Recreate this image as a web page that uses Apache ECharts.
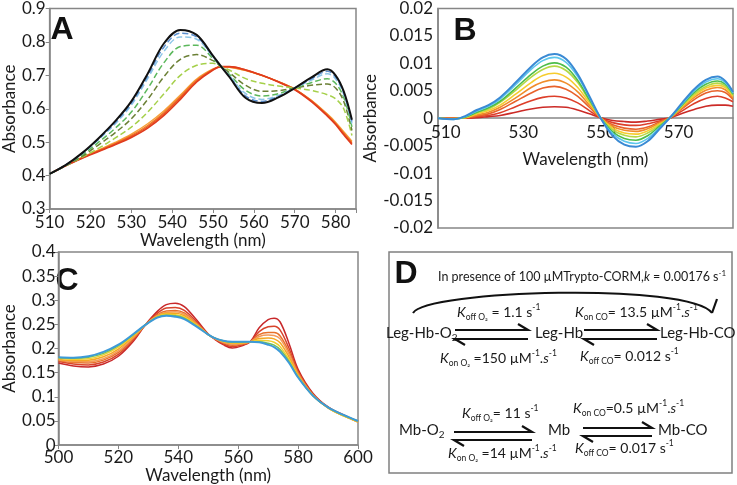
<!DOCTYPE html>
<html>
<head>
<meta charset="utf-8">
<title>Absorbance spectra</title>
<script src="https://cdn.jsdelivr.net/npm/echarts@6/dist/echarts.min.js"></script>
<style>
    html, body { margin: 0; background: #fff; }
    #chart { width: 737px; height: 485px; }
</style>
</head>
<body>
<div id="chart"></div>
<script>
// ---- panel A : spectra 510-584 nm ----
var aWave = [510, 514, 518, 522, 526, 530, 534, 538, 542, 546, 550, 552, 554, 558, 562, 566, 570, 574, 578, 580, 582, 584];
var aBlack = [0.405, 0.432, 0.468, 0.512, 0.562, 0.622, 0.705, 0.796, 0.836, 0.821, 0.758, 0.726, 0.695, 0.632, 0.617, 0.634, 0.662, 0.693, 0.718, 0.700, 0.652, 0.567];
var aBlue = [0.405, 0.432, 0.467, 0.510, 0.558, 0.617, 0.698, 0.785, 0.826, 0.815, 0.757, 0.726, 0.697, 0.638, 0.622, 0.637, 0.662, 0.689, 0.712, 0.695, 0.648, 0.562];
var aLightBlue = [0.405, 0.432, 0.466, 0.508, 0.554, 0.611, 0.690, 0.772, 0.815, 0.808, 0.755, 0.726, 0.699, 0.645, 0.628, 0.640, 0.662, 0.685, 0.705, 0.689, 0.643, 0.556];
var aGreen = [0.405, 0.431, 0.462, 0.500, 0.541, 0.590, 0.660, 0.738, 0.786, 0.790, 0.750, 0.726, 0.703, 0.655, 0.638, 0.645, 0.662, 0.678, 0.690, 0.676, 0.634, 0.546];
var aOlive = [0.405, 0.430, 0.458, 0.492, 0.528, 0.570, 0.628, 0.696, 0.748, 0.762, 0.744, 0.726, 0.708, 0.670, 0.652, 0.654, 0.662, 0.670, 0.674, 0.662, 0.622, 0.535];
var aLime = [0.405, 0.430, 0.455, 0.482, 0.512, 0.545, 0.590, 0.645, 0.700, 0.730, 0.736, 0.726, 0.716, 0.690, 0.676, 0.668, 0.662, 0.655, 0.642, 0.630, 0.600, 0.520];
var aRed = [0.405, 0.430, 0.452, 0.472, 0.492, 0.514, 0.542, 0.580, 0.628, 0.680, 0.716, 0.726, 0.726, 0.716, 0.700, 0.680, 0.657, 0.622, 0.578, 0.553, 0.522, 0.493];
var aRedOrange = [0.405, 0.430, 0.453, 0.474, 0.494, 0.517, 0.546, 0.585, 0.633, 0.683, 0.717, 0.726, 0.726, 0.716, 0.700, 0.681, 0.658, 0.624, 0.580, 0.555, 0.525, 0.496];
var aOrange = [0.405, 0.430, 0.454, 0.475, 0.496, 0.520, 0.550, 0.589, 0.637, 0.686, 0.718, 0.726, 0.725, 0.715, 0.700, 0.681, 0.659, 0.625, 0.582, 0.557, 0.528, 0.499];
var aLightOrange = [0.405, 0.431, 0.455, 0.477, 0.499, 0.524, 0.555, 0.594, 0.641, 0.689, 0.719, 0.726, 0.724, 0.714, 0.699, 0.681, 0.659, 0.626, 0.584, 0.560, 0.531, 0.503];

// ---- panel B : difference spectra ----
var bWave = [508, 512, 515, 518, 521, 524, 528, 532, 535, 538, 541, 544, 547, 550, 553, 556, 559, 562, 565, 568, 571, 574, 577, 580, 582, 584];
var bTicks = [510, 530, 550, 570];
var bDarkRed = [0, 0, 0, 0.0001, 0.0003, 0.0005, 0.0011, 0.0017, 0.0020, 0.0021, 0.0020, 0.0015, 0.0008, 0.0001, -0.0004, -0.0006, -0.0007, -0.0005, -0.0002, 0.0001, 0.0009, 0.0016, 0.0022, 0.0024, 0.0024, 0.0022];
var bRed = [0, 0, 0, 0.0003, 0.0005, 0.0010, 0.0021, 0.0032, 0.0038, 0.0040, 0.0037, 0.0028, 0.0014, 0, -0.0008, -0.0012, -0.0013, -0.0010, -0.0005, 0.0001, 0.0014, 0.0027, 0.0036, 0.0040, 0.0037, 0.0030];
var bRedOrange = [0, 0, 0.0001, 0.0004, 0.0008, 0.0016, 0.0031, 0.0046, 0.0055, 0.0058, 0.0053, 0.0040, 0.0020, 0, -0.0012, -0.0018, -0.0020, -0.0016, -0.0007, 0.0002, 0.0018, 0.0034, 0.0046, 0.0050, 0.0047, 0.0034];
var bOrange = [0, 0, 0.0001, 0.0006, 0.0011, 0.0020, 0.0037, 0.0056, 0.0066, 0.0070, 0.0064, 0.0048, 0.0024, 0, -0.0015, -0.0022, -0.0024, -0.0019, -0.0009, 0.0002, 0.0020, 0.0038, 0.0051, 0.0056, 0.0052, 0.0037];
var bYellow = [0, -0.0001, 0.0001, 0.0008, 0.0014, 0.0024, 0.0044, 0.0065, 0.0078, 0.0082, 0.0075, 0.0056, 0.0028, 0, -0.0018, -0.0027, -0.0029, -0.0023, -0.0011, 0.0002, 0.0022, 0.0041, 0.0055, 0.0060, 0.0056, 0.0040];
var bLime = [0, -0.0001, 0.0002, 0.0010, 0.0017, 0.0029, 0.0051, 0.0075, 0.0089, 0.0095, 0.0087, 0.0065, 0.0032, 0, -0.0021, -0.0031, -0.0034, -0.0027, -0.0013, 0.0002, 0.0024, 0.0044, 0.0058, 0.0064, 0.0059, 0.0042];
var bGreen = [0, -0.0001, 0.0002, 0.0011, 0.0019, 0.0031, 0.0055, 0.0080, 0.0095, 0.0101, 0.0093, 0.0069, 0.0034, 0, -0.0025, -0.0037, -0.0040, -0.0032, -0.0015, 0.0003, 0.0025, 0.0047, 0.0062, 0.0068, 0.0062, 0.0044];
var bCyan = [0, -0.0002, 0.0003, 0.0013, 0.0022, 0.0035, 0.0061, 0.0089, 0.0105, 0.0111, 0.0102, 0.0076, 0.0038, -0.0001, -0.0028, -0.0042, -0.0046, -0.0037, -0.0018, 0.0003, 0.0027, 0.0050, 0.0066, 0.0072, 0.0065, 0.0046];
var bBlue = [0, -0.0002, 0.0004, 0.0015, 0.0024, 0.0038, 0.0065, 0.0094, 0.0111, 0.0117, 0.0108, 0.0080, 0.0040, -0.0001, -0.0032, -0.0048, -0.0052, -0.0042, -0.0020, 0.0003, 0.0029, 0.0053, 0.0070, 0.0076, 0.0068, 0.0048];

// ---- panel C : spectra 500-600 nm ----
var cWave = [500, 505, 510, 515, 520, 525, 529, 533, 536, 539, 542, 546, 550, 552, 555, 558, 561, 564, 567, 570, 572, 574, 577, 580, 585, 590, 595, 600];
var cDarkRed = [0.170, 0.164, 0.162, 0.168, 0.184, 0.215, 0.249, 0.277, 0.291, 0.294, 0.287, 0.260, 0.230, 0.220, 0.208, 0.201, 0.205, 0.214, 0.243, 0.260, 0.263, 0.255, 0.210, 0.157, 0.107, 0.079, 0.063, 0.049];
var cRed = [0.173, 0.168, 0.166, 0.172, 0.188, 0.218, 0.249, 0.273, 0.284, 0.285, 0.279, 0.256, 0.229, 0.221, 0.210, 0.204, 0.207, 0.214, 0.235, 0.245, 0.246, 0.238, 0.200, 0.153, 0.105, 0.078, 0.062, 0.049];
var cRedOrange = [0.175, 0.171, 0.170, 0.176, 0.192, 0.221, 0.249, 0.270, 0.278, 0.279, 0.274, 0.253, 0.229, 0.221, 0.212, 0.207, 0.209, 0.214, 0.229, 0.233, 0.233, 0.226, 0.193, 0.150, 0.104, 0.078, 0.062, 0.048];
var cSalmon = [0.177, 0.173, 0.173, 0.179, 0.195, 0.223, 0.249, 0.268, 0.275, 0.276, 0.271, 0.251, 0.229, 0.221, 0.213, 0.209, 0.210, 0.214, 0.225, 0.228, 0.227, 0.220, 0.188, 0.147, 0.103, 0.077, 0.061, 0.048];
var cOrange = [0.178, 0.175, 0.176, 0.183, 0.199, 0.225, 0.249, 0.267, 0.273, 0.273, 0.268, 0.250, 0.229, 0.222, 0.214, 0.211, 0.211, 0.214, 0.221, 0.222, 0.220, 0.212, 0.182, 0.145, 0.103, 0.077, 0.061, 0.048];
var cYellow = [0.180, 0.178, 0.179, 0.187, 0.203, 0.227, 0.249, 0.266, 0.271, 0.270, 0.265, 0.249, 0.229, 0.222, 0.215, 0.212, 0.212, 0.214, 0.217, 0.216, 0.213, 0.204, 0.177, 0.143, 0.102, 0.077, 0.061, 0.049];
var cGreen = [0.181, 0.180, 0.182, 0.190, 0.206, 0.229, 0.249, 0.265, 0.269, 0.268, 0.263, 0.247, 0.229, 0.222, 0.216, 0.213, 0.213, 0.214, 0.214, 0.211, 0.207, 0.198, 0.173, 0.141, 0.102, 0.078, 0.062, 0.050];
var cBlue = [0.182, 0.181, 0.184, 0.193, 0.208, 0.230, 0.249, 0.264, 0.268, 0.266, 0.261, 0.246, 0.229, 0.222, 0.216, 0.214, 0.214, 0.214, 0.213, 0.208, 0.203, 0.193, 0.170, 0.140, 0.102, 0.078, 0.063, 0.050];

var FONT = 'Lato, "Open Sans", sans-serif';
var AXIS_GREY = '#868686';
var TXT = '#1a1a1a';

function pairs(xs, ys) {
    return xs.map(function (x, i) { return [x, ys[i]]; });
}

function line(name, xs, ys, color, idx, width, dash) {
    return {
        name: name,
        type: 'line',
        xAxisIndex: idx,
        yAxisIndex: idx,
        data: pairs(xs, ys),
        smooth: 0.35,
        showSymbol: false,
        symbol: 'none',
        silent: true,
        lineStyle: { color: color, width: width, type: dash ? [6, 3] : 'solid' }
    };
}

function yAx(idx, min, max, step, gap, margin, ticks) {
    return {
        gridIndex: idx, type: 'value', min: min, max: max, interval: step,
        name: 'Absorbance', nameLocation: 'middle', nameGap: gap, nameRotate: 90,
        nameTextStyle: { fontFamily: FONT, fontSize: 17, color: TXT },
        axisLine: { show: true, onZero: false, lineStyle: { color: AXIS_GREY, width: 1.5 } },
        axisTick: { show: ticks, length: 4, lineStyle: { color: AXIS_GREY } },
        axisLabel: { fontFamily: FONT, fontSize: 17, color: TXT, margin: margin },
        splitLine: { show: false }
    };
}

var gridBox = { show: true, borderColor: AXIS_GREY, borderWidth: 1.5, containLabel: false };

// rich styles for the kinetic scheme
var rich = {
    k: { fontFamily: FONT, fontStyle: 'italic', fontSize: 14, lineHeight: 19, fill: TXT },
    s: { fontFamily: FONT, fontSize: 8.5, lineHeight: 9, verticalAlign: 'bottom', fill: TXT },
    m: { fontFamily: FONT, fontSize: 14, lineHeight: 19, fill: TXT },
    i: { fontFamily: FONT, fontStyle: 'italic', fontSize: 14, lineHeight: 19, fill: TXT },
    p: { fontFamily: FONT, fontSize: 8.5, lineHeight: 9, verticalAlign: 'top', fill: TXT },
    big: { fontFamily: FONT, fontSize: 15, lineHeight: 20, fill: TXT },
    sub: { fontFamily: FONT, fontSize: 10, lineHeight: 10, verticalAlign: 'bottom', fill: TXT },
    t: { fontFamily: FONT, fontSize: 12.5, lineHeight: 16, fill: TXT },
    ti: { fontFamily: FONT, fontStyle: 'italic', fontSize: 12.5, lineHeight: 16, fill: TXT },
    tp: { fontFamily: FONT, fontSize: 8, lineHeight: 8, verticalAlign: 'top', fill: TXT }
};

function txt(x, y, s) {
    return { type: 'text', silent: true, style: { x: x, y: y, text: s, rich: rich, align: 'left', verticalAlign: 'middle' } };
}

function letter(x, y, s) {
    return {
        type: 'text', silent: true,
        style: { x: x, y: y, text: s, fontFamily: '"Liberation Sans", Arial, sans-serif', fontWeight: 'bold', fontSize: 32, fill: '#111', align: 'center', verticalAlign: 'middle' }
    };
}

function harpoon(pts) {
    return { type: 'polyline', silent: true, shape: { points: pts }, style: { stroke: '#111', lineWidth: 2.2, fill: null } };
}

var chart = echarts.init(document.getElementById('chart'));
chart.setOption({
    animation: false,
    backgroundColor: '#fff',
    textStyle: { fontFamily: FONT },
    grid: [
        Object.assign({ left: 42, top: 7, width: 314, height: 202 }, gridBox),
        Object.assign({ left: 438, top: 7, width: 295, height: 221 }, gridBox),
        Object.assign({ left: 45, top: 252, width: 313, height: 194 }, gridBox)
    ],
    xAxis: [
        {
            gridIndex: 0, type: 'value', min: 510, max: 585, interval: 10,
            name: 'Wavelength (nm)', nameLocation: 'middle', nameGap: 19,
            nameTextStyle: { fontFamily: FONT, fontSize: 17, color: TXT },
            axisLine: { onZero: false, lineStyle: { color: AXIS_GREY, width: 1.5 } },
            axisTick: { length: 4, lineStyle: { color: AXIS_GREY } },
            axisLabel: {
                fontFamily: FONT, fontSize: 17, color: TXT, margin: 5,
                formatter: function (v) { return v % 10 === 0 ? String(v) : ''; }
            },
            splitLine: { show: false }
        },
        {
            // axis drawn through y = 0 (middle of the plot)
            gridIndex: 1, type: 'value', min: 508, max: 584, offset: -110.5,
            name: 'Wavelength (nm)', nameLocation: 'middle', nameGap: 34,
            nameTextStyle: { fontFamily: FONT, fontSize: 17, color: TXT },
            axisLine: { onZero: false, lineStyle: { color: AXIS_GREY, width: 1.5 } },
            axisTick: { show: false },
            axisLabel: { fontFamily: FONT, fontSize: 17, color: TXT, margin: 7, customValues: bTicks },
            splitLine: { show: false }
        },
        {
            gridIndex: 2, type: 'value', min: 500, max: 600, interval: 20,
            name: 'Wavelength (nm)', nameLocation: 'middle', nameGap: 20,
            nameTextStyle: { fontFamily: FONT, fontSize: 17, color: TXT },
            axisLine: { onZero: false, lineStyle: { color: AXIS_GREY, width: 1.5 } },
            axisTick: { length: 4, lineStyle: { color: AXIS_GREY } },
            axisLabel: { fontFamily: FONT, fontSize: 17, color: TXT, margin: 4 },
            splitLine: { show: false }
        }
    ],
    yAxis: [
        yAx(0, 0.3, 0.9, 0.1, 24, 4, true),
        yAx(1, -0.02, 0.02, 0.005, 49, 5, false),
        yAx(2, 0, 0.4, 0.05, 28, 3, true)
    ],
    series: [
        line('A light orange', aWave, aLightOrange, '#f6a23a', 0, 1.4),
        line('A orange', aWave, aOrange, '#f07d28', 0, 1.4),
        line('A red-orange', aWave, aRedOrange, '#ea5a22', 0, 1.4),
        line('A red', aWave, aRed, '#e03b1d', 0, 1.6),
        line('A lime', aWave, aLime, '#a5d04a', 0, 1.5, true),
        line('A olive', aWave, aOlive, '#6a7f34', 0, 1.5, true),
        line('A green', aWave, aGreen, '#5cb85c', 0, 1.5, true),
        line('A light blue', aWave, aLightBlue, '#8ec6e8', 0, 1.5, true),
        line('A blue', aWave, aBlue, '#5b8fcf', 0, 1.5, true),
        line('A black', aWave, aBlack, '#111111', 0, 2),

        line('B dark red', bWave, bDarkRed, '#cc2b27', 1, 1.6),
        line('B red', bWave, bRed, '#dd3f2a', 1, 1.6),
        line('B red-orange', bWave, bRedOrange, '#e8622b', 1, 1.6),
        line('B orange', bWave, bOrange, '#f08c2a', 1, 1.6),
        line('B yellow', bWave, bYellow, '#f6cc2e', 1, 1.6),
        line('B lime', bWave, bLime, '#b5d845', 1, 1.6),
        line('B green', bWave, bGreen, '#4dbd4a', 1, 1.6),
        line('B cyan', bWave, bCyan, '#5cc6ec', 1, 1.6),
        line('B blue', bWave, bBlue, '#3a8ad4', 1, 2),

        line('C dark red', cWave, cDarkRed, '#c8282a', 2, 1.5),
        line('C red', cWave, cRed, '#d8432b', 2, 1.5),
        line('C red-orange', cWave, cRedOrange, '#e8702a', 2, 1.5),
        line('C salmon', cWave, cSalmon, '#f39a5a', 2, 1.5),
        line('C orange', cWave, cOrange, '#f5a623', 2, 1.5),
        line('C yellow', cWave, cYellow, '#f0cf2e', 2, 1.5),
        line('C green', cWave, cGreen, '#72c05a', 2, 1.5),
        line('C blue', cWave, cBlue, '#3d9ad8', 2, 2)
    ],
    graphic: [
        letter(62, 30, 'A'),
        letter(465, 31, 'B'),
        letter(67, 281, 'C'),
        letter(406, 274, 'D'),
        {
            type: 'rect', silent: true,
            shape: { x: 389, y: 252, width: 343, height: 221 },
            style: { fill: null, stroke: '#808080', lineWidth: 1.5 }
        },
        txt(438, 277, '{t|In presence of 100 µMTrypto-CORM,}{ti|k}{t| = 0.00176 s}{tp|-1}'),
        {
            type: 'bezierCurve', silent: true,
            shape: { x1: 413, y1: 313, cpx1: 425, cpy1: 290, cpx2: 690, cpy2: 282, x2: 712, y2: 313 },
            style: { stroke: '#111', lineWidth: 2, fill: null }
        },
        harpoon([[712, 313], [717, 299]]),

        // Leg-Hb row
        txt(386, 333, '{big|Leg-Hb-O}{sub|2}'),
        txt(535, 333, '{big|Leg-Hb}'),
        txt(660, 333, '{big|Leg-Hb-CO}'),
        harpoon([[455, 330], [528, 330], [518, 324]]),
        harpoon([[528, 339], [455, 339], [465, 345]]),
        harpoon([[584, 330], [657, 330], [647, 324]]),
        harpoon([[657, 339], [584, 339], [594, 345]]),
        txt(457, 312, '{k|K}{s|off O₂}{m| = 1.1 s}{p|-1}'),
        txt(440, 358, '{k|K}{s|on O₂}{m| =150 µM}{p|-1}{m|.}{i|s}{p|-1}'),
        txt(575, 312, '{k|K}{s|on CO}{m|= 13.5 µM}{p|-1}{m|.}{i|s}{p|-1}'),
        txt(580, 356, '{k|K}{s|off CO}{m|= 0.012 s}{p|-1}'),

        // Mb row
        txt(399, 430, '{big|Mb-O}{sub|2}'),
        txt(548, 430, '{big|Mb}'),
        txt(658, 430, '{big|Mb-CO}'),
        harpoon([[454, 432], [532, 432], [522, 426]]),
        harpoon([[532, 440], [454, 440], [464, 446]]),
        harpoon([[583, 428], [652, 428], [642, 422]]),
        harpoon([[652, 436], [583, 436], [593, 442]]),
        txt(462, 413, '{k|K}{s|off O₂}{m|= 11 s}{p|-1}'),
        txt(448, 453, '{k|K}{s|on O₂}{m| =14 µM}{p|-1}{m|.}{i|s}{p|-1}'),
        txt(573, 408, '{k|K}{s|on CO}{m|=0.5 µM}{p|-1}{m|.}{i|s}{p|-1}'),
        txt(575, 448, '{k|K}{s|off CO}{m|= 0.017 s}{p|-1}')
    ]
});
</script>
</body>
</html>
